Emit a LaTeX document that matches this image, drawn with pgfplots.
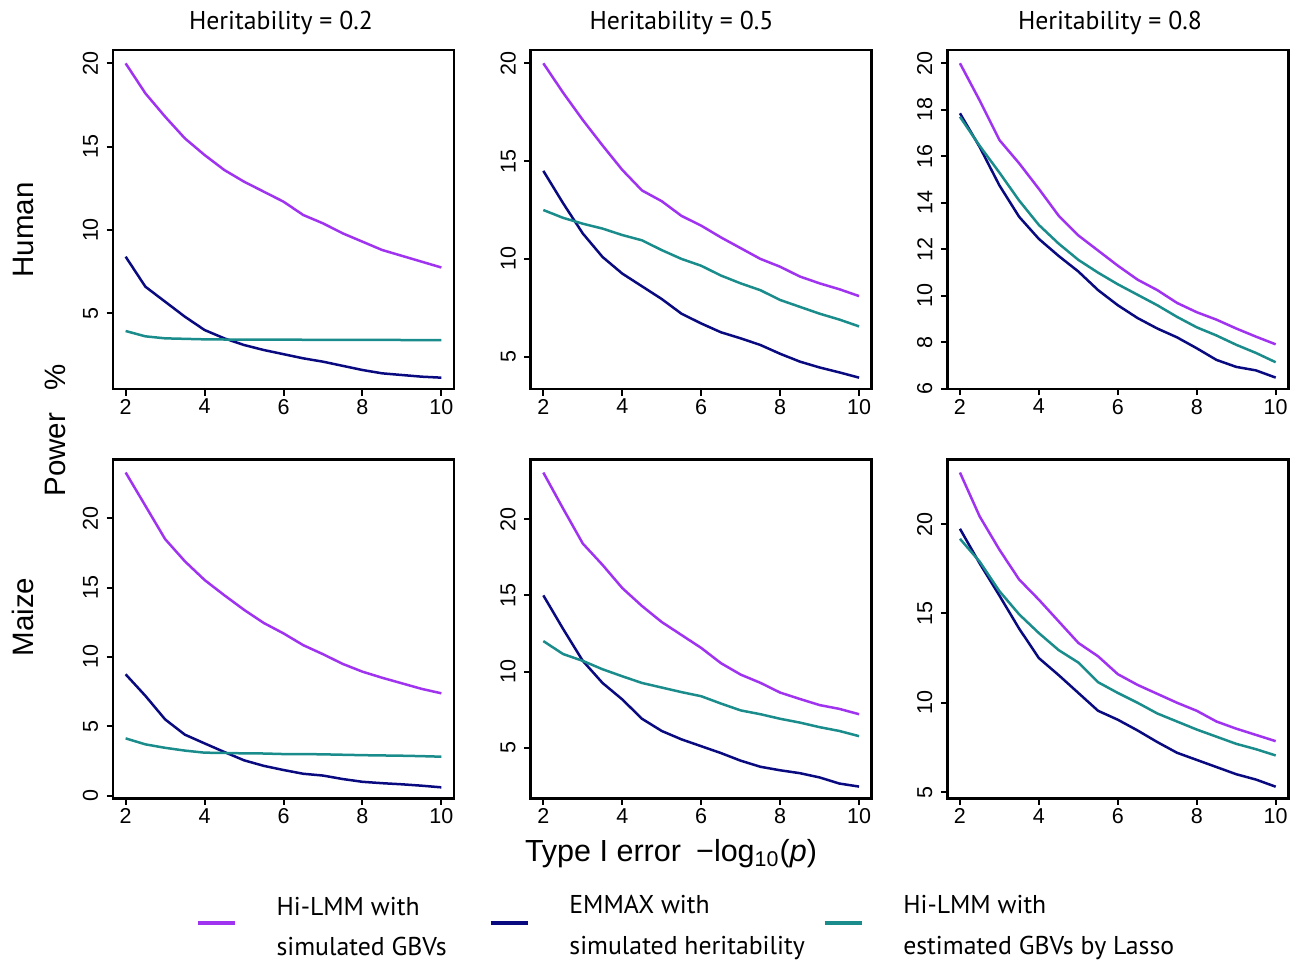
\documentclass[border=0pt]{standalone}
\usepackage{fontspec}
\setmainfont{Liberation Sans}
\newfontfamily\myriad{PT Sans}
\usepackage{pgfplots}
\pgfplotsset{compat=1.18}

\definecolor{hipurple}{HTML}{A033F0}
\definecolor{emnavy}{HTML}{0A0A80}
\definecolor{lassoteal}{HTML}{1A8C8C}

\newcommand{\legtext}[2]{\raisebox{5.2pt}{\parbox[c]{#1}{\fontsize{10.3}{16.2}\selectfont\myriad #2}}}

\pgfplotsset{
  panel/.style={
    scale only axis,
    width=136.4pt, height=135.6pt,
    xmin=1.68, xmax=10.32,
    xtick={2,4,6,8,10},
    axis line style={line width=1.1pt},
    tick align=outside, tick pos=left,
    major tick length=2.6pt,
    tick style={line width=0.8pt, black},
    ticklabel style={font=\fontsize{8.6}{9}\selectfont},
    xticklabel style={inner sep=1.2pt},
    yticklabel style={rotate=90, anchor=south, inner sep=3.2pt},
    /pgf/number format/assume math mode=true,
    every axis plot/.append style={line width=1pt, no marks},
  },
}

\begin{document}
\begin{tikzpicture}
\useasboundingbox (0,0) rectangle (518pt,383.6pt);

% ---- top row: Human ----
\begin{axis}[panel, at={(45.2pt,363.6pt)}, anchor=north west,
  ymin=0.46, ymax=20.8, ytick={5,10,15,20}]
\addplot[hipurple] coordinates {(2,20.0)(2.5,18.2)(3,16.8)(3.5,15.5)(4,14.5)(4.5,13.6)(5,12.9)(5.5,12.3)(6,11.7)(6.5,10.9)(7,10.4)(7.5,9.8)(8,9.3)(8.5,8.8)(9,8.45)(9.5,8.1)(10,7.75)};
\addplot[emnavy] coordinates {(2,8.4)(2.5,6.6)(3,5.7)(3.5,4.8)(4,4.0)(4.5,3.5)(5,3.1)(5.5,2.8)(6,2.55)(6.5,2.3)(7,2.1)(7.5,1.85)(8,1.6)(8.5,1.4)(9,1.3)(9.5,1.2)(10,1.14)};
\addplot[lassoteal] coordinates {(2,3.94)(2.5,3.62)(3,3.5)(3.5,3.47)(4,3.44)(4.5,3.43)(5,3.42)(6,3.42)(7,3.41)(8,3.41)(9,3.4)(10,3.4)};
\end{axis}

\begin{axis}[panel, at={(212.28pt,363.6pt)}, anchor=north west,
  ymin=3.35, ymax=20.68, ytick={5,10,15,20}]
\addplot[hipurple] coordinates {(2,20)(2.5,18.5)(3,17.1)(3.5,15.8)(4,14.55)(4.5,13.5)(5,12.95)(5.5,12.2)(6,11.7)(6.5,11.1)(7,10.55)(7.5,10.0)(8,9.6)(8.5,9.1)(9,8.75)(9.5,8.45)(10,8.1)};
\addplot[emnavy] coordinates {(2,14.5)(2.5,12.85)(3,11.3)(3.5,10.1)(4,9.25)(4.5,8.6)(5,7.95)(5.5,7.2)(6,6.7)(6.5,6.25)(7,5.94)(7.5,5.6)(8,5.15)(8.5,4.75)(9,4.45)(9.5,4.2)(10,3.93)};
\addplot[lassoteal] coordinates {(2,12.5)(2.5,12.1)(3,11.8)(3.5,11.55)(4,11.22)(4.5,10.95)(5,10.45)(5.5,10.0)(6,9.65)(6.5,9.15)(7,8.75)(7.5,8.4)(8,7.9)(8.5,7.55)(9,7.2)(9.5,6.9)(10,6.55)};
\end{axis}

\begin{axis}[panel, at={(378.92pt,363.6pt)}, anchor=north west,
  ymin=6, ymax=20.57, ytick={6,8,...,20}]
\addplot[hipurple] coordinates {(2,20)(2.5,18.4)(3,16.7)(3.5,15.7)(4,14.6)(4.5,13.45)(5,12.6)(5.5,11.95)(6,11.3)(6.5,10.7)(7,10.25)(7.5,9.7)(8,9.3)(8.5,8.98)(9,8.6)(9.5,8.25)(10,7.92)};
\addplot[emnavy] coordinates {(2,17.85)(2.5,16.4)(3,14.75)(3.5,13.4)(4,12.45)(4.5,11.72)(5,11.05)(5.5,10.25)(6,9.6)(6.5,9.05)(7,8.6)(7.5,8.22)(8,7.75)(8.5,7.25)(9,6.95)(9.5,6.8)(10,6.49)};
\addplot[lassoteal] coordinates {(2,17.7)(2.5,16.45)(3,15.3)(3.5,14.1)(4,13.05)(4.5,12.25)(5,11.55)(5.5,11.0)(6,10.5)(6.5,10.05)(7,9.6)(7.5,9.1)(8,8.65)(8.5,8.3)(9,7.9)(9.5,7.55)(10,7.15)};
\end{axis}

% ---- bottom row: Maize ----
\begin{axis}[panel, at={(45.2pt,199.88pt)}, anchor=north west,
  ymin=-0.19, ymax=24.25, ytick={0,5,10,15,20}]
\addplot[hipurple] coordinates {(2,23.3)(2.5,20.9)(3,18.5)(3.5,16.9)(4,15.55)(4.5,14.45)(5,13.4)(5.5,12.45)(6,11.7)(6.5,10.85)(7,10.2)(7.5,9.5)(8,8.94)(8.5,8.5)(9,8.1)(9.5,7.7)(10,7.38)};
\addplot[emnavy] coordinates {(2,8.75)(2.5,7.2)(3,5.5)(3.5,4.4)(4,3.77)(4.5,3.15)(5,2.55)(5.5,2.15)(6,1.85)(6.5,1.58)(7,1.45)(7.5,1.2)(8,1.0)(8.5,0.9)(9,0.82)(9.5,0.72)(10,0.6)};
\addplot[lassoteal] coordinates {(2,4.13)(2.5,3.7)(3,3.45)(3.5,3.25)(4,3.1)(4.5,3.08)(5,3.05)(5.5,3.04)(6,3.0)(6.5,3.0)(7,2.98)(7.5,2.95)(8,2.92)(8.5,2.9)(9,2.88)(9.5,2.85)(10,2.81)};
\end{axis}

\begin{axis}[panel, at={(212.28pt,199.88pt)}, anchor=north west,
  ymin=1.68, ymax=23.93, ytick={5,10,15,20},
  legend image code/.code={\draw[#1, line width=1.3pt] (0pt,0pt) -- (14.8pt,0pt); \path (31pt,0pt);},
  legend style={at={(-0.981,-0.368)}, anchor=west, draw=none, fill=none,
    legend columns=3, inner sep=0pt, outer sep=0pt, nodes={inner sep=0pt},
    legend cell align=left}]
\addplot[hipurple] coordinates {(2,23.06)(2.5,20.7)(3,18.4)(3.5,17.0)(4,15.48)(4.5,14.3)(5,13.25)(5.5,12.4)(6,11.55)(6.5,10.55)(7,9.8)(7.5,9.26)(8,8.62)(8.5,8.2)(9,7.8)(9.5,7.55)(10,7.2)};
\addplot[emnavy] coordinates {(2,15.0)(2.5,12.8)(3,10.7)(3.5,9.25)(4,8.17)(4.5,6.9)(5,6.1)(5.5,5.55)(6,5.1)(6.5,4.65)(7,4.15)(7.5,3.75)(8,3.52)(8.5,3.33)(9,3.05)(9.5,2.65)(10,2.45)};
\addplot[lassoteal] coordinates {(2,12.0)(2.5,11.15)(3,10.7)(3.5,10.15)(4,9.69)(4.5,9.25)(5,8.95)(5.5,8.65)(6,8.38)(6.5,7.9)(7,7.45)(7.5,7.2)(8,6.9)(8.5,6.65)(9,6.35)(9.5,6.1)(10,5.76)};
\legend{{\legtext{85pt}{Hi-LMM with\\simulated GBVs}},{\legtext{101.4pt}{EMMAX with\\simulated heritability}},{\legtext{150pt}{Hi-LMM with\\estimated GBVs by Lasso}}}
\end{axis}

\begin{axis}[panel, at={(378.92pt,199.88pt)}, anchor=north west,
  ymin=4.65, ymax=23.63, ytick={5,10,15,20}]
\addplot[hipurple] coordinates {(2,22.89)(2.5,20.43)(3,18.57)(3.5,16.9)(4,15.77)(4.5,14.56)(5,13.35)(5.5,12.6)(6,11.6)(6.5,11.0)(7,10.5)(7.5,10.0)(8,9.55)(8.5,8.95)(9,8.55)(9.5,8.2)(10,7.85)};
\addplot[emnavy] coordinates {(2,19.74)(2.5,17.8)(3,16.0)(3.5,14.15)(4,12.5)(4.5,11.55)(5,10.55)(5.5,9.55)(6,9.05)(6.5,8.45)(7,7.8)(7.5,7.2)(8,6.8)(8.5,6.4)(9,6.0)(9.5,5.7)(10,5.3)};
\addplot[lassoteal] coordinates {(2,19.18)(2.5,17.9)(3,16.25)(3.5,14.95)(4,13.9)(4.5,12.95)(5,12.25)(5.5,11.15)(6,10.55)(6.5,10.0)(7,9.4)(7.5,8.95)(8,8.5)(8.5,8.1)(9,7.7)(9.5,7.4)(10,7.05)};
\end{axis}

% ---- titles and labels ----
\begin{scope}[every node/.style={inner sep=0pt}]
\node[anchor=base, font=\fontsize{10.3}{12}\selectfont\myriad] at (112.4pt,371.6pt) {Heritability = 0.2};
\node[anchor=base, font=\fontsize{10.3}{12}\selectfont\myriad] at (272.6pt,371.6pt) {Heritability = 0.5};
\node[anchor=base, font=\fontsize{10.3}{12}\selectfont\myriad] at (444pt,371.6pt) {Heritability = 0.8};
\node[anchor=base, rotate=90, font=\fontsize{11.8}{13}\selectfont] at (13.2pt,291.6pt) {Human};
\node[anchor=base, rotate=90, font=\fontsize{11.8}{13}\selectfont] at (13.2pt,136.8pt) {Maize};
\node[anchor=base, rotate=90, font=\fontsize{11.8}{13}\selectfont] at (26pt,211.4pt) {Power\hspace{0.75em}\%};
\node[anchor=base, font=\fontsize{12.2}{13}\selectfont] at (268.4pt,38.9pt) {Type I error\hspace{0.5em}−log\textsubscript{10}(\textit{p})};
\end{scope}
\end{tikzpicture}
\end{document}
